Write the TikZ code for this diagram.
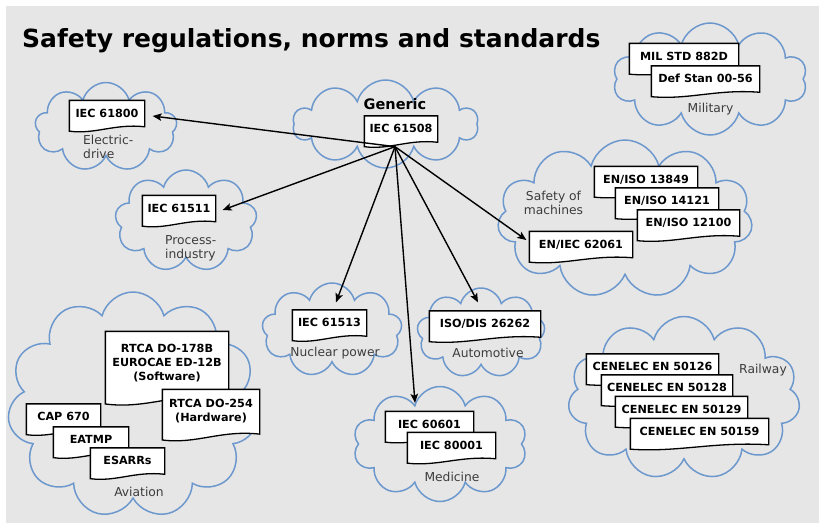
\documentclass[tikz,border=0pt]{standalone}
\usepackage{fontspec}
\setmainfont{DejaVu Sans}
\usetikzlibrary{shapes.symbols,arrows.meta,calc}
\definecolor{bgc}{RGB}{230,230,230}
\definecolor{cloudc}{RGB}{108,152,205}
\definecolor{lblc}{RGB}{60,60,60}
\makeatletter
\pgfdeclareshape{docshape}{
  \inheritsavedanchors[from=rectangle]
  \inheritanchorborder[from=rectangle]
  \inheritanchor[from=rectangle]{center}
  \inheritanchor[from=rectangle]{north}
  \inheritanchor[from=rectangle]{south}
  \inheritanchor[from=rectangle]{east}
  \inheritanchor[from=rectangle]{west}
  \inheritanchor[from=rectangle]{north east}
  \inheritanchor[from=rectangle]{north west}
  \inheritanchor[from=rectangle]{south east}
  \inheritanchor[from=rectangle]{south west}
  \inheritanchor[from=rectangle]{mid}
  \inheritanchor[from=rectangle]{base}
  \backgroundpath{%
    \southwest \pgf@xa=\pgf@x \pgf@ya=\pgf@y
    \northeast \pgf@xb=\pgf@x \pgf@yb=\pgf@y
    \edef\dsxa{\the\pgf@xa}\edef\dsya{\the\pgf@ya}%
    \edef\dsxb{\the\pgf@xb}\edef\dsyb{\the\pgf@yb}%
    \pgfmathsetmacro\dsw{\dsxb-\dsxa}%
    \pgfmathsetmacro\dsh{\dsyb-\dsya}%
    \pgfmathsetmacro\dsL{3+0.1*\dsh}%
    \pgfpathmoveto{\pgfpoint{\dsxa}{\dsyb}}%
    \pgfpathlineto{\pgfpoint{\dsxb}{\dsyb}}%
    \pgfpathlineto{\pgfpoint{\dsxb}{\dsya-0.2*\dsL}}%
    \pgfpathcurveto{\pgfpoint{\dsxb-0.4*\dsw}{\dsya+0.4*\dsL}}{\pgfpoint{\dsxa+0.35*\dsw}{\dsya-1.6*\dsL}}{\pgfpoint{\dsxa}{\dsya-\dsL}}%
    \pgfpathclose
  }
}
\makeatother
\tikzset{
  cloudst/.style={cloud, cloud ignores aspect, draw=cloudc, fill=bgc, line width=1.5pt, inner sep=0pt},
  docbox/.style={shape=docshape, draw=black, fill=white, line width=1.3pt,
     font=\bfseries\fontsize{11.2}{14}\selectfont, inner xsep=4pt, inner ysep=0pt,
     minimum height=24pt, text height=8.2pt, text depth=0pt},
  docmulti/.style={shape=docshape, draw=black, fill=white, line width=1.3pt,
     font=\bfseries\fontsize{11.2}{14}\selectfont, inner xsep=4pt, inner ysep=0pt, align=center},
  lbl/.style={text=lblc, font=\fontsize{12.3}{14}\selectfont, inner sep=0pt, align=center},
  arr/.style={line width=1.4pt, -{Stealth[length=9pt,width=7.5pt,inset=2pt]}}
}
\begin{document}
\begin{tikzpicture}[x=1pt,y=-1pt]
\useasboundingbox (0,0) rectangle (819,523);
\fill[bgc] (6,6) rectangle (819,523);
% title
\node[anchor=base west, inner sep=0pt, font=\bfseries\fontsize{25}{30}\selectfont] (title) at (22,47) {Safety regulations, norms and standards};
% clouds
\node[cloudst, cloud puffs=9, minimum width=142pt, minimum height=89pt] (celec) at (106,127) {};
\node[cloudst, cloud puffs=10, minimum width=185pt, minimum height=88pt] (cgen) at (385.5,124) {};
\node[cloudst, cloud puffs=9, minimum width=142pt, minimum height=102pt] (cproc) at (186,221) {};
\node[cloudst, cloud puffs=10, minimum width=194pt, minimum height=112pt] (cmil) at (710,79) {};
\node[cloudst, cloud puffs=11, minimum width=255pt, minimum height=158pt] (csafe) at (625,219) {};
\node[cloudst, cloud puffs=9, minimum width=140pt, minimum height=94pt] (cnuc) at (332,330) {};
\node[cloudst, cloud puffs=9, minimum width=128pt, minimum height=90pt] (cauto) at (481,333) {};
\node[cloudst, cloud puffs=10, minimum width=174pt, minimum height=115pt] (cmed) at (440,444) {};
\node[cloudst, cloud puffs=11, minimum width=251pt, minimum height=226pt] (cavi) at (133,405) {};
\node[cloudst, cloud puffs=11, minimum width=232pt, minimum height=163pt] (crail) at (684,398) {};
% cloud labels
\node[lbl, align=left, anchor=west] (lelec) at (83,147) {Electric-\\drive};
\node[lbl, align=left, anchor=west] (lproc) at (165,248) {Process-\\industry};
\node[lbl, font=\bfseries\fontsize{14.5}{17}\selectfont, text=black] (lgen) at (395,104) {Generic};
\node[lbl] (lmil) at (710.5,109) {Military};
\node[lbl] (lsafe) at (553.5,202.5) {Safety of\\machines};
\node[lbl] (lnuc) at (335,353) {Nuclear power};
\node[lbl] (lauto) at (488,353) {Automotive};
\node[lbl] (lmed) at (452,477) {Medicine};
\node[lbl] (lavi) at (139,492) {Aviation};
\node[lbl] (lrail) at (763,370) {Railway};
% documents
\node[docbox, minimum width=74pt] (d61800) at (107,113) {IEC 61800};
\node[docbox, minimum width=72pt] (d61508) at (401,128.5) {IEC 61508};
\node[docbox, minimum width=72pt] (d61511) at (179,208) {IEC 61511};
\node[docbox, minimum width=108pt] (dmil) at (684,56) {MIL STD 882D};
\node[docbox, minimum width=107pt] (ddef) at (705.5,78.5) {Def Stan 00-56};
\node[docbox, minimum width=102pt] (d13849) at (646,179) {EN/ISO 13849};
\node[docbox, minimum width=102pt] (d14121) at (667,200.5) {EN/ISO 14121};
\node[docbox, minimum width=101pt] (d12100) at (688.5,222.5) {EN/ISO 12100};
\node[docbox, minimum width=102pt] (d62061) at (581,244) {EN/IEC 62061};
\node[docmulti, minimum width=122pt, minimum height=62pt] (d178) at (167,363) {RTCA DO-178B\\EUROCAE ED-12B\\(Software)};
\node[docmulti, minimum width=96pt, minimum height=42pt] (d254) at (211,411) {RTCA DO-254\\(Hardware)};
\node[docbox, minimum width=73pt] (dcap) at (63.5,416.5) {CAP 670};
\node[docbox, minimum width=74pt] (deat) at (91,439.5) {EATMP};
\node[docbox, minimum width=73pt] (desa) at (127.5,460.5) {ESARRs};
\node[docbox, minimum width=73pt] (d61513) at (329.5,322.5) {IEC 61513};
\node[docbox, minimum width=110pt] (d26262) at (485,323.5) {ISO/DIS 26262};
\node[docbox, minimum width=87pt] (d60601) at (429.5,424) {IEC 60601};
\node[docbox, minimum width=87pt] (d80001) at (451.5,445) {IEC 80001};
\node[docbox, minimum width=131pt] (d50126) at (652.5,366.5) {CENELEC EN 50126};
\node[docbox, minimum width=130pt] (d50128) at (667,387.5) {CENELEC EN 50128};
\node[docbox, minimum width=131pt] (d50129) at (681.5,409) {CENELEC EN 50129};
\node[docbox, minimum width=137pt] (d50159) at (699.5,431) {CENELEC EN 50159};
% arrows
\coordinate (src) at ($(d61508.south)+(-6,5.5)$);
\draw[arr] (src) -- ($(d61800.east)+(8,3)$);
\draw[arr] (src) -- ($(d61511.east)+(7,2)$);
\draw[arr] (src) -- ($(d61513.north)+(6.5,-7.5)$);
\draw[arr] (src) -- ($(d60601.north)+(-14.5,-8.5)$);
\draw[arr] (src) -- ($(d26262.north)+(-7,-8.5)$);
\draw[arr] (src) -- ($(d62061.west)+(-3,-4)$);
\end{tikzpicture}
\end{document}
